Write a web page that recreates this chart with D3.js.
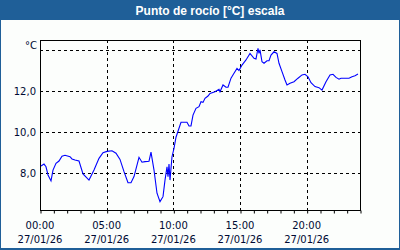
<!DOCTYPE html>
<html lang="es">
<head>
<meta charset="utf-8">
<title>Punto de rocío</title>
<script src="https://cdn.jsdelivr.net/npm/d3@7"></script>
<style>
  body { margin: 0; background: #fff; }
  svg { display: block; }
  .lbl { font-family: "DejaVu Sans", Verdana, sans-serif; font-size: 10px; fill: #000a33; }
</style>
</head>
<body>
<script>

// hours since 00:00 on 27/01/26
var hours = [0.075, 0.3, 0.45, 0.6, 0.825, 0.975, 1.2, 1.425, 1.65, 1.875, 2.25, 2.4, 2.625, 2.925,
  3.225, 3.675, 4.05, 4.425, 4.725, 5.025, 5.4, 5.7, 6.0, 6.3, 6.6, 6.825, 7.05, 7.425, 7.65, 7.875,
  8.175, 8.325, 8.55, 8.775, 9.0, 9.225, 9.375, 9.525, 9.6, 9.675, 9.75, 9.9, 10.05, 10.2, 10.425,
  10.575, 11.025, 11.175, 11.325, 11.475, 11.7, 11.925, 12.075, 12.225, 12.375, 12.6, 12.75, 13.125,
  13.425, 13.5, 13.725, 13.95, 14.1, 14.325, 14.55, 14.775, 14.925, 15.15, 15.45, 15.75, 16.05, 16.2,
  16.35, 16.425, 16.5, 16.65, 16.8, 17.025, 17.175, 17.325, 17.55, 17.775, 17.925, 18.15, 18.375,
  18.525, 18.75, 19.05, 19.35, 19.65, 19.875, 20.1, 20.325, 20.625, 20.925, 21.15, 21.45, 21.75,
  21.975, 22.2, 22.425, 22.575, 23.175, 23.4, 23.625, 23.85];

var dewPoint = [8.32, 8.41, 8.28, 7.88, 7.59, 8.12, 8.45, 8.56, 8.80, 8.84, 8.77, 8.66, 8.61, 8.56,
  7.93, 7.63, 8.12, 8.69, 8.97, 9.03, 9.06, 8.94, 8.64, 8.04, 7.50, 7.50, 7.80, 8.74, 8.50, 8.53,
  8.55, 8.99, 8.12, 6.99, 6.58, 6.82, 7.63, 8.28, 7.80, 8.41, 7.63, 8.77, 9.18, 9.72, 10.16,
  10.45, 10.45, 10.27, 10.27, 10.80, 11.13, 11.21, 11.45, 11.42, 11.62, 11.73, 11.86, 11.94,
  12.06, 11.94, 12.27, 12.16, 12.16, 12.60, 12.84, 13.08, 12.97, 13.24, 13.49, 13.81, 13.57, 13.54,
  14.06, 13.81, 13.98, 13.40, 13.33, 13.45, 13.45, 13.73, 13.89, 13.81, 13.33, 12.92, 12.51,
  12.27, 12.35, 12.43, 12.60, 12.76, 12.79, 12.67, 12.38, 12.19, 12.14, 12.02, 12.43, 12.76,
  12.79, 12.64, 12.55, 12.60, 12.60, 12.67, 12.72, 12.80];

var yTicks = [8, 10, 12];
var xMajor = [0, 5, 10, 15, 20];
var xLabels = ["00:00", "05:00", "10:00", "15:00", "20:00"];
var dateLabel = "27/01/26";

var W = 400, H = 250;
var plot = { left: 40, right: 360, top: 40, bottom: 210 };

var svg = d3.select("body").append("svg")
  .attr("width", W)
  .attr("height", H);

// frame + title bar
svg.append("rect").attr("width", W).attr("height", H).attr("fill", "#1f5f98");
svg.append("rect").attr("x", 1).attr("y", 20).attr("width", W - 2).attr("height", H - 22)
  .attr("fill", "#fcfefc");
svg.append("text")
  .attr("x", 210).attr("y", 15)
  .attr("text-anchor", "middle")
  .style("font-family", "'Liberation Sans', Arial, sans-serif")
  .style("font-size", "12px")
  .style("font-weight", "bold")
  .attr("fill", "#fff")
  .text("Punto de rocío [°C] escala");

var x = d3.scaleLinear().domain([0, 24]).range([plot.left, plot.right]);
var y = d3.scaleLinear().domain([14 - 160.5 / 20.5, 14 + 9.5 / 20.5]).range([plot.bottom, plot.top]);

var g = svg.append("g");

// grid
g.selectAll("line.hgrid")
  .data(yTicks.concat([14]))
  .enter().append("line")
  .attr("x1", plot.left).attr("x2", plot.right)
  .attr("y1", function(d) { return Math.round(y(d)) + 0.5; })
  .attr("y2", function(d) { return Math.round(y(d)) + 0.5; })
  .attr("stroke", "#000").attr("stroke-dasharray", "3,3");

g.selectAll("line.vgrid")
  .data(xMajor.slice(1))
  .enter().append("line")
  .attr("y1", plot.top).attr("y2", plot.bottom)
  .attr("x1", function(d) { return Math.round(x(d)) + 0.5; })
  .attr("x2", function(d) { return Math.round(x(d)) + 0.5; })
  .attr("stroke", "#000").attr("stroke-dasharray", "3,3");

// plot border
g.append("rect")
  .attr("x", plot.left + 0.5).attr("y", plot.top + 0.5)
  .attr("width", plot.right - plot.left).attr("height", plot.bottom - plot.top)
  .attr("fill", "none").attr("stroke", "#000");

// x axis with hourly ticks
var xAxis = d3.axisBottom(x)
  .tickValues(d3.range(0, 25))
  .tickSize(3)
  .tickFormat("");
var ax = svg.append("g").attr("transform", "translate(0.5," + (plot.bottom + 0.5) + ")").call(xAxis);
ax.select(".domain").remove();
ax.selectAll(".tick line").attr("stroke", "#000");

var xl = svg.selectAll("g.xlab")
  .data(xMajor)
  .enter().append("g")
  .attr("transform", function(d) { return "translate(" + x(d) + ",0)"; });
xl.append("text").attr("class", "lbl").attr("text-anchor", "middle").attr("y", 229)
  .text(function(d, i) { return xLabels[i]; });
xl.append("text").attr("class", "lbl").attr("text-anchor", "middle").attr("y", 243)
  .text(dateLabel);

// y labels
svg.selectAll("text.ylab")
  .data(yTicks)
  .enter().append("text")
  .attr("class", "lbl")
  .attr("text-anchor", "end")
  .attr("x", 36)
  .attr("y", function(d) { return y(d) + 4; })
  .text(function(d) { return d3.format(".1f")(d).replace(".", ","); });

svg.append("text").attr("class", "lbl").attr("text-anchor", "end")
  .attr("x", 37).attr("y", y(14) - 1).text("°C");

// series
var pts = hours.map(function(h, i) { return [h, dewPoint[i]]; });
var line = d3.line()
  .x(function(d) { return x(d[0]); })
  .y(function(d) { return y(d[1]); });

svg.append("path")
  .datum(pts)
  .attr("d", line)
  .attr("fill", "none")
  .attr("stroke", "#0000ff")
  .attr("stroke-width", 1.1);

</script>
</body>
</html>
